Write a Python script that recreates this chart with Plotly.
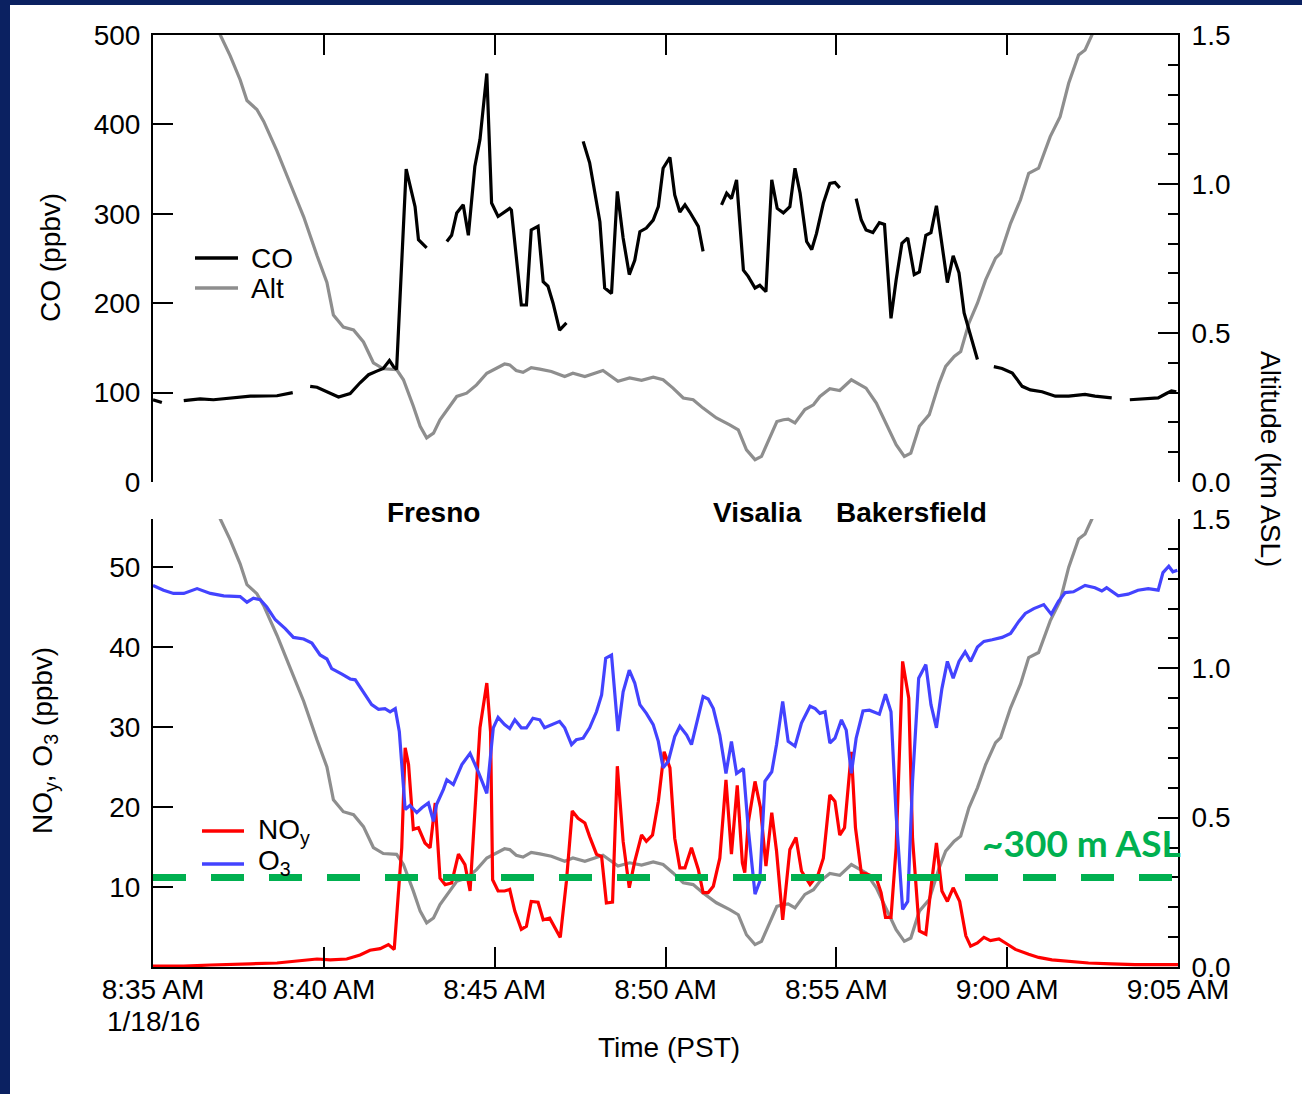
import plotly.graph_objects as go

# ---------------------------------------------------------------
# Flight profile, 1/18/16, 8:35-9:05 AM PST
# Times are minutes after 8:35 AM PST.
# ---------------------------------------------------------------

# Aircraft altitude (km ASL)
alt_points = [
    (1.90, 1.52), (1.97, 1.50), (2.26, 1.43), (2.55, 1.35), (2.75, 1.28), (3.04, 1.25),
    (3.24, 1.21), (3.63, 1.11), (4.02, 1.00), (4.41, 0.89), (4.80, 0.76), (5.09, 0.67),
    (5.28, 0.56), (5.57, 0.52), (5.87, 0.51), (6.16, 0.47), (6.45, 0.40), (6.74, 0.38),
    (7.13, 0.377), (7.33, 0.343), (7.62, 0.254), (7.82, 0.187), (8.01, 0.148), (8.21, 0.164),
    (8.40, 0.209), (8.89, 0.287), (9.18, 0.298), (9.47, 0.326), (9.77, 0.365), (10.05, 0.382),
    (10.29, 0.396), (10.44, 0.393), (10.63, 0.374), (10.83, 0.368), (11.07, 0.384), (11.32, 0.379),
    (11.66, 0.371), (12.05, 0.354), (12.29, 0.365), (12.64, 0.354), (13.17, 0.374), (13.61, 0.338),
    (13.95, 0.349), (14.30, 0.341), (14.64, 0.352), (14.93, 0.343), (15.22, 0.315), (15.52, 0.282),
    (15.81, 0.276), (16.10, 0.248), (16.49, 0.215), (16.88, 0.192), (17.13, 0.175), (17.37, 0.108),
    (17.62, 0.075), (17.81, 0.086), (18.06, 0.153), (18.26, 0.203), (18.45, 0.209), (18.59, 0.211),
    (18.79, 0.198), (19.08, 0.243), (19.33, 0.259), (19.52, 0.287), (19.81, 0.313), (20.10, 0.307),
    (20.44, 0.343), (20.87, 0.315), (21.17, 0.265), (21.46, 0.198), (21.75, 0.125), (21.99, 0.086),
    (22.18, 0.097), (22.43, 0.187), (22.72, 0.226), (23.01, 0.332), (23.20, 0.388), (23.45, 0.421),
    (23.64, 0.438), (23.88, 0.533), (24.13, 0.600), (24.37, 0.678), (24.66, 0.751), (24.81, 0.768),
    (25.10, 0.868), (25.39, 0.947), (25.63, 1.036), (25.92, 1.053), (26.26, 1.159), (26.55, 1.226),
    (26.80, 1.338), (27.09, 1.433), (27.28, 1.450), (27.48, 1.500), (27.60, 1.530),
]

# CO (ppbv); None marks gaps in the record
co_points = [
    (0.00, 92), (0.26, 89), None,
    (0.90, 91), (1.38, 93), (1.77, 92), (2.36, 94), (2.85, 96), (3.63, 96.5), (3.92, 99), (4.09, 100), None,
    (4.60, 107), (4.80, 106), (5.43, 95), (5.77, 99), (6.06, 111), (6.31, 120), (6.55, 124), (6.74, 127),
    (6.92, 136), (7.04, 129), (7.13, 126), (7.41, 350), (7.67, 308), (7.77, 271), (8.01, 262), None,
    (8.60, 269), (8.74, 276), (8.89, 301), (9.08, 310), (9.23, 276), (9.42, 353), (9.57, 383), (9.77, 457),
    (9.91, 312), (10.10, 297), (10.44, 306), (10.49, 304), (10.78, 198), (10.93, 198), (11.07, 282),
    (11.27, 286), (11.42, 224), (11.56, 219), (11.71, 200), (11.90, 170), (12.10, 178), None,
    (12.59, 381), (12.78, 357), (13.08, 291), (13.22, 217), (13.42, 211), (13.59, 325), (13.76, 273),
    (13.94, 232), (14.10, 248), (14.25, 280), (14.44, 284), (14.64, 293), (14.79, 308), (14.93, 351),
    (15.13, 363), (15.27, 321), (15.42, 302), (15.57, 310), (15.71, 302), (15.96, 286), (16.10, 258), None,
    (16.64, 310), (16.79, 323), (16.93, 317), (17.08, 338), (17.28, 237), (17.42, 230), (17.62, 217),
    (17.76, 220), (17.94, 213), (18.11, 338), (18.27, 306), (18.45, 301), (18.64, 308), (18.79, 351),
    (18.94, 323), (19.13, 269), (19.28, 260), (19.42, 278), (19.62, 312), (19.81, 334), (19.96, 335),
    (20.10, 329), None,
    (20.58, 317), (20.73, 293), (20.87, 282), (21.07, 279), (21.26, 290), (21.41, 288), (21.60, 183),
    (21.75, 226), (21.92, 267), (22.09, 273), (22.28, 232), (22.43, 235), (22.62, 276), (22.77, 279),
    (22.93, 309), (23.11, 260), (23.25, 223), (23.42, 253), (23.59, 234), (23.74, 189), (23.88, 170),
    (24.13, 137), None,
    (24.61, 129), (24.85, 127), (25.15, 122), (25.44, 107), (25.68, 103), (26.02, 101), (26.41, 96),
    (26.80, 96), (27.28, 98), (27.57, 96), (28.06, 94), None,
    (28.59, 92), (29.03, 93), (29.42, 94), (29.66, 99), (29.81, 102), (29.95, 101),
]

# NOy (ppbv)
noy_points = [
    (0.00, 0.1), (0.90, 0.1), (1.68, 0.25), (2.36, 0.3), (2.85, 0.4), (3.63, 0.5), (4.02, 0.7),
    (4.41, 0.9), (4.80, 1.0), (5.19, 0.9), (5.67, 1.0), (6.06, 1.5), (6.35, 2.1), (6.65, 2.3),
    (6.89, 2.8), (7.06, 2.2), (7.18, 8.6), (7.28, 14.9), (7.38, 27.4), (7.48, 25.3), (7.62, 17.2),
    (7.77, 17.4), (7.96, 15.5), (8.11, 14.9), (8.26, 20.5), (8.40, 11.1), (8.55, 10.3), (8.74, 10.5),
    (8.94, 14.1), (9.13, 12.8), (9.28, 9.5), (9.42, 19.0), (9.57, 29.9), (9.77, 35.5), (9.88, 29.4),
    (9.94, 10.9), (10.10, 9.5), (10.29, 9.5), (10.44, 9.7), (10.59, 7.0), (10.78, 4.7), (10.93, 5.1),
    (11.07, 8.2), (11.27, 8.1), (11.42, 5.9), (11.61, 6.1), (11.76, 4.9), (11.92, 3.7), (12.10, 10.7),
    (12.27, 19.5), (12.44, 18.6), (12.64, 18.0), (12.78, 16.3), (12.98, 14.1), (13.13, 13.8),
    (13.27, 8.0), (13.45, 8.1), (13.59, 25.1), (13.76, 15.7), (13.94, 9.9), (14.10, 13.2),
    (14.30, 16.5), (14.44, 15.7), (14.62, 16.5), (14.79, 20.7), (14.96, 26.9), (15.13, 24.9),
    (15.27, 16.1), (15.42, 12.4), (15.57, 12.4), (15.76, 14.9), (15.96, 12.2), (16.10, 9.3),
    (16.25, 9.3), (16.40, 10.1), (16.59, 13.6), (16.77, 23.4), (16.93, 14.1), (17.10, 22.7),
    (17.25, 13.0), (17.32, 11.8), (17.42, 18.0), (17.62, 23.2), (17.78, 19.9), (17.94, 12.6),
    (18.11, 19.3), (18.25, 14.5), (18.43, 5.9), (18.64, 14.7), (18.82, 16.2), (18.98, 12.0),
    (19.23, 10.3), (19.47, 11.6), (19.62, 13.6), (19.81, 21.5), (19.96, 20.7), (20.10, 16.5),
    (20.24, 17.4), (20.44, 26.9), (20.56, 17.4), (20.73, 11.8), (20.92, 11.6), (21.17, 11.1),
    (21.31, 9.3), (21.44, 6.2), (21.60, 6.2), (21.75, 14.9), (21.94, 38.2), (22.12, 33.6),
    (22.23, 16.1), (22.43, 4.5), (22.62, 4.1), (22.77, 9.9), (22.93, 15.5), (23.09, 9.5),
    (23.25, 8.2), (23.42, 9.9), (23.61, 8.2), (23.79, 3.9), (23.93, 2.6), (24.13, 3.0),
    (24.32, 3.7), (24.51, 3.3), (24.76, 3.5), (24.95, 3.0), (25.24, 2.2), (25.63, 1.6),
    (25.92, 1.2), (26.31, 0.9), (26.80, 0.75), (27.38, 0.5), (28.06, 0.4), (28.74, 0.3), (30.00, 0.3),
]

# O3 (ppbv)
o3_points = [
    (0.00, 47.7), (0.31, 47.1), (0.60, 46.7), (0.90, 46.7), (1.29, 47.3), (1.68, 46.7), (2.07, 46.4),
    (2.55, 46.3), (2.75, 45.6), (2.94, 46.1), (3.14, 45.9), (3.33, 45.0), (3.58, 43.4), (3.87, 42.3),
    (4.11, 41.2), (4.41, 41.0), (4.65, 40.5), (4.89, 39.0), (5.09, 38.5), (5.23, 37.3), (5.53, 36.6),
    (5.77, 36.0), (5.92, 35.9), (6.16, 34.4), (6.40, 32.8), (6.60, 32.2), (6.79, 32.3), (6.94, 31.9),
    (7.09, 32.3), (7.21, 29.4), (7.38, 19.7), (7.52, 20.2), (7.72, 19.3), (7.87, 19.9), (8.06, 20.5),
    (8.21, 18.2), (8.30, 20.3), (8.50, 22.2), (8.60, 23.4), (8.79, 22.8), (9.04, 25.3), (9.28, 26.7),
    (9.52, 24.4), (9.77, 21.7), (9.96, 29.9), (10.10, 31.2), (10.29, 30.3), (10.44, 29.8), (10.59, 30.9),
    (10.78, 29.9), (10.93, 29.9), (11.12, 31.1), (11.32, 30.9), (11.46, 29.9), (11.66, 30.3), (11.90, 30.7),
    (12.05, 29.9), (12.25, 27.8), (12.39, 28.4), (12.59, 28.6), (12.78, 29.9), (12.98, 31.9), (13.13, 34.0),
    (13.25, 38.6), (13.42, 39.0), (13.61, 29.5), (13.76, 34.4), (13.94, 37.1), (14.10, 35.5), (14.25, 32.8),
    (14.44, 31.7), (14.64, 30.3), (14.79, 28.2), (14.93, 24.9), (15.08, 25.7), (15.27, 28.8), (15.42, 30.1),
    (15.62, 29.0), (15.76, 27.8), (15.96, 31.5), (16.10, 33.8), (16.25, 33.5), (16.40, 32.3), (16.59, 29.0),
    (16.77, 24.2), (16.93, 28.2), (17.08, 24.2), (17.28, 24.8), (17.42, 17.4), (17.62, 9.1), (17.76, 10.7),
    (17.91, 23.2), (18.11, 24.4), (18.25, 27.8), (18.43, 33.2), (18.59, 28.2), (18.79, 27.6), (18.98, 30.5),
    (19.23, 32.6), (19.38, 32.3), (19.52, 31.7), (19.67, 31.9), (19.81, 28.0), (19.96, 28.6), (20.15, 30.9),
    (20.29, 29.6), (20.44, 24.2), (20.58, 28.6), (20.78, 32.0), (20.97, 32.1), (21.26, 31.6), (21.44, 34.1),
    (21.60, 31.9), (21.75, 19.0), (21.94, 7.2), (22.09, 8.2), (22.23, 23.2), (22.41, 36.1), (22.62, 37.8),
    (22.77, 32.8), (22.93, 29.9), (23.09, 34.8), (23.25, 38.2), (23.42, 36.1), (23.59, 38.2), (23.77, 39.4),
    (23.93, 38.2), (24.13, 40.0), (24.32, 40.7), (24.56, 40.9), (24.85, 41.2), (25.10, 41.7), (25.34, 43.2),
    (25.53, 44.2), (25.78, 44.8), (26.07, 45.3), (26.29, 44.1), (26.50, 45.7), (26.70, 46.8), (26.94, 46.9),
    (27.28, 47.7), (27.57, 47.4), (27.77, 47.0), (27.91, 47.4), (28.25, 46.4), (28.54, 46.6), (28.83, 47.1),
    (29.13, 47.3), (29.42, 47.1), (29.56, 49.3), (29.73, 50.1), (29.85, 49.4), (29.98, 49.6),
]

# Time axis ticks
time_ticks = [0, 5, 10, 15, 20, 25, 30]
time_labels = ["8:35 AM", "8:40 AM", "8:45 AM", "8:50 AM", "8:55 AM", "9:00 AM", "9:05 AM"]
flight_date = "1/18/16"

# Reference altitude line (km ASL)
ref_alt_km = 0.3

# Towns overflown (label, centre time in minutes)
towns = [("Fresno", 8.2), ("Visalia", 17.7), ("Bakersfield", 22.2)]


def unzip(points):
    xs = [p[0] if p is not None else None for p in points]
    ys = [p[1] if p is not None else None for p in points]
    return xs, ys


W, H = 1302, 1094
FONT = "Liberation Sans, Arial, Helvetica, sans-serif"
BLACK = "#000000"
GRAY = "#8E8E8E"
RED = "#FF0000"
BLUE = "#4343FF"
GREEN = "#00B050"
NAVY = "#0B2161"
LW = 3.2


def px(x):
    return x / W


def py(y):
    return 1 - y / H


X_DOM = [px(153), px(1178)]
TOP_DOM = [py(482), py(35)]
BOT_DOM = [py(967), py(519)]

alt_t, alt_v = unzip(alt_points)
co_t, co_v = unzip(co_points)
noy_t, noy_v = unzip(noy_points)
o3_t, o3_v = unzip(o3_points)

fig = go.Figure()

# Top panel: altitude (base, right axis) and CO (overlay, left axis)
fig.add_trace(go.Scatter(x=alt_t, y=alt_v, mode="lines", name="Alt",
                         line=dict(color=GRAY, width=LW), xaxis="x", yaxis="y", showlegend=False))
fig.add_trace(go.Scatter(x=co_t, y=co_v, mode="lines", name="CO", connectgaps=False,
                         line=dict(color=BLACK, width=LW), xaxis="x", yaxis="y2", showlegend=False))

# Bottom panel: altitude (base, right axis), NOy and O3 (overlay, left axis)
fig.add_trace(go.Scatter(x=alt_t, y=alt_v, mode="lines", name="Alt",
                         line=dict(color=GRAY, width=LW), xaxis="x2", yaxis="y3", showlegend=False))
fig.add_trace(go.Scatter(x=noy_t, y=noy_v, mode="lines", name="NOy",
                         line=dict(color=RED, width=LW), xaxis="x2", yaxis="y4", showlegend=False))
fig.add_trace(go.Scatter(x=o3_t, y=o3_v, mode="lines", name="O3",
                         line=dict(color=BLUE, width=LW), xaxis="x2", yaxis="y4", showlegend=False))

tickfont = dict(family=FONT, size=28, color=BLACK)
common_axis = dict(showgrid=False, zeroline=False, showline=True, linecolor=BLACK, linewidth=2,
                   ticks="inside", ticklen=20, tickwidth=2, tickcolor=BLACK, tickfont=tickfont,
                   automargin=False)
right_axis = dict(common_axis, side="right", range=[0, 1.5], tickmode="linear", tick0=0, dtick=0.5,
                  tickformat=".1f", ticklabelstandoff=6,
                  minor=dict(ticks="inside", ticklen=10, tickwidth=2, tickcolor=BLACK, tick0=0, dtick=0.1))

fig.update_layout(
    width=W, height=H,
    margin=dict(l=0, r=0, t=0, b=0, autoexpand=False),
    paper_bgcolor="white", plot_bgcolor="rgba(0,0,0,0)",
    font=dict(family=FONT, size=28, color=BLACK),
    showlegend=False,
    xaxis=dict(common_axis, domain=X_DOM, anchor="y", side="top", range=[0, 30],
               tickmode="array", tickvals=time_ticks, showticklabels=False),
    yaxis=dict(right_axis, domain=TOP_DOM, anchor="x"),
    yaxis2=dict(common_axis, overlaying="y", anchor="x", side="left", range=[0, 500],
                tickmode="array", tickvals=[0, 100, 200, 300, 400, 500], ticklabelstandoff=5),
    xaxis2=dict(common_axis, domain=X_DOM, anchor="y3", side="bottom", range=[0, 30],
                tickmode="array", tickvals=time_ticks, ticktext=time_labels, ticklabelstandoff=-4),
    yaxis3=dict(right_axis, domain=BOT_DOM, anchor="x2"),
    yaxis4=dict(common_axis, overlaying="y3", anchor="x2", side="left", range=[0, 56],
                tickmode="array", tickvals=[10, 20, 30, 40, 50], ticklabelstandoff=5),
)

shapes = []
# ~300 m reference line
shapes.append(dict(type="line", xref="x2", yref="y3", x0=0, x1=30, y0=ref_alt_km, y1=ref_alt_km,
                   line=dict(color=GREEN, width=7, dash="33px,25px"), layer="above"))
# legend keys
for (x0, x1, y, col) in [(195, 238, 258, BLACK), (195, 238, 288, GRAY),
                          (202, 244, 831, RED), (202, 244, 864, BLUE)]:
    shapes.append(dict(type="line", xref="paper", yref="paper", x0=px(x0), x1=px(x1),
                       y0=py(y), y1=py(y), line=dict(color=col, width=3.5)))
# slide frame
shapes.append(dict(type="rect", xref="paper", yref="paper", x0=0, x1=px(10), y0=0, y1=1,
                   fillcolor=NAVY, line=dict(width=0), layer="above"))
shapes.append(dict(type="rect", xref="paper", yref="paper", x0=0, x1=1, y0=py(5), y1=1,
                   fillcolor=NAVY, line=dict(width=0), layer="above"))
fig.update_layout(shapes=shapes)


def label(text, x, y, size=28, xanchor="center", yanchor="middle", angle=0, color=BLACK,
          weight="normal", family=FONT, xref="paper"):
    return dict(text=text, x=x, y=py(y), xref=xref, yref="paper", showarrow=False,
                xanchor=xanchor, yanchor=yanchor, textangle=angle,
                font=dict(family=family, size=size, color=color, weight=weight))


annotations = [
    label("CO (ppbv)", px(50), 258, angle=-90),
    label("NO<sub>y</sub>, O<sub>3</sub> (ppbv)", px(45), 741, angle=-90),
    label("Altitude (km ASL)", px(1271), 459, angle=90),
    label("Time (PST)", px(669), 1047),
    label(flight_date, 0, 1021, xref="x2"),
    label("CO", px(249), 258, xanchor="left"),
    label("Alt", px(249), 288, xanchor="left"),
    label("NO<sub>y</sub>", px(256), 831, xanchor="left"),
    label("O<sub>3</sub>", px(256), 862, xanchor="left"),
    label("~300 m ASL", px(1183), 842, xanchor="right", size=37, color=GREEN, weight="bold",
          family="Lato, Open Sans, sans-serif"),
]
for name, t in towns:
    annotations.append(label(name, t, 512, weight="bold", xref="x2"))
fig.update_layout(annotations=annotations)

fig.write_html("out.html")
